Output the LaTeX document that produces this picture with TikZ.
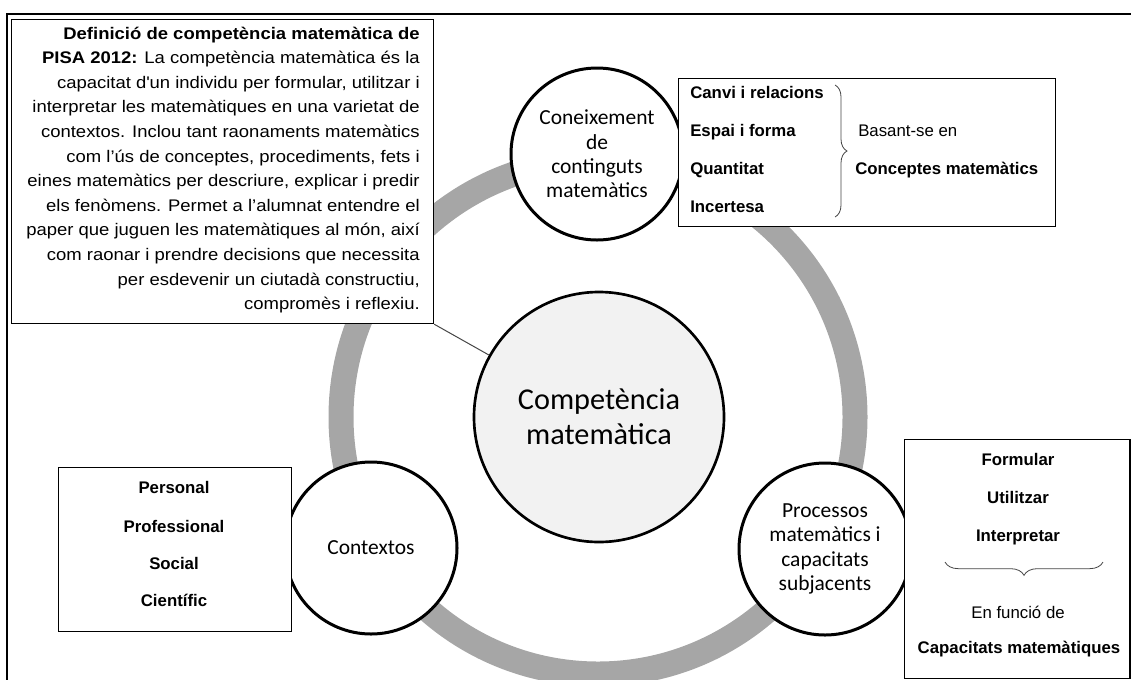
\documentclass[tikz,border=0pt]{standalone}
\usepackage{fontspec}
\setmainfont{Liberation Sans}
\newfontfamily\calib{Carlito}
\newfontfamily\defn[FakeStretch=1.1]{Liberation Sans}
\usetikzlibrary{decorations.pathreplacing}
\definecolor{ringgray}{RGB}{166,166,166}
\definecolor{centgray}{RGB}{242,242,242}
\definecolor{linegray}{RGB}{70,70,70}
\tikzset{
  smallc/.style={circle, draw, line width=2.25pt, fill=white, minimum size=129pt, inner sep=0pt,
    font=\calib\fontsize{16.1}{18.3}\selectfont, align=center},
  bigc/.style={circle, draw, line width=2pt, fill=centgray, minimum size=187.5pt, inner sep=0pt,
    font=\calib\fontsize{22.7}{26.3}\selectfont, align=center},
  boxnode/.style={draw, line width=0.9pt, fill=white, inner sep=0pt, anchor=north west},
  item/.style={inner sep=0pt, font=\fontsize{12.6}{15}\selectfont\bfseries},
  plain/.style={inner sep=0pt, font=\fontsize{12.6}{15}\selectfont},
  bracestyle/.style={decorate, line width=0.6pt, draw=linegray},
}
\begin{document}
\begin{tikzpicture}[x=0.75pt,y=-0.75pt]
\useasboundingbox (0,0) rectangle (1131,679);
\clip (0,0) rectangle (1131,679);
% outer frame
\draw[line width=1.5pt] (7,14) rectangle (1145,695);
% ring
\draw[ringgray, line width=18.75pt] (598,417) circle[radius=192.75pt];
% central circle
\node[bigc] (comp) at (599,417) {Competència\\matemàtica};
% small circles
\node[smallc] (con) at (597,154) {Coneixement\\de\\continguts\\matemàtics};
\node[smallc] (ctx) at (371,548) {Contextos};
\node[smallc] (pro) at (825,549) {Processos\\matemàtics i\\capacitats\\subjacents};
% definition box
\node[boxnode, minimum width=316.5pt, minimum height=228pt] (defbox) at (11,19) {};
\node[anchor=north east, inner sep=0pt, align=right,
  font=\defn\fontsize{12.6}{18.45}\selectfont] (deftext) at (420,26.6)
 {\textbf{Definició de competència matemàtica de}\\
  \textbf{PISA 2012:} La competència matemàtica és la\\
  capacitat d\textquotesingle un individu per formular, utilitzar i\\
  interpretar les matemàtiques en una varietat de\\
  contextos. Inclou tant raonaments matemàtics\\
  com l’ús de conceptes, procediments, fets i\\
  eines matemàtics per descriure, explicar i predir\\
  els fenòmens. Permet a l’alumnat entendre el\\
  paper que juguen les matemàtiques al món, així\\
  com raonar i prendre decisions que necessita\\
  per esdevenir un ciutadà constructiu,\\
  compromès i reflexiu.};
\draw[line width=0.75pt, draw=linegray] (defbox.south east) -- (comp);
% conceptes box
\node[boxnode, minimum width=282.75pt, minimum height=111pt] (conbox) at (678,78) {};
\node[item, anchor=base west] (c1) at (690,98) {Canvi i relacions};
\node[item, anchor=base west] (c2) at (690,136) {Espai i forma};
\node[item, anchor=base west] (c3) at (690,174) {Quantitat};
\node[item, anchor=base west] (c4) at (690,212) {Incertesa};
\coordinate (cbt) at (835,85);
\coordinate (cbb) at (835,217);
\draw[bracestyle, decoration={brace, amplitude=9pt}] (cbt) -- (cbb);
\node[plain, anchor=base west] (bas) at (858,136) {Basant-se en};
\node[item, anchor=base west] (cm) at (855,174) {Conceptes matemàtics};
% capacitats box
\node[boxnode, minimum width=169.1pt, minimum height=178.9pt] (capbox) at (904,439) {};
\node[item, anchor=base] (p1) at (1018,465) {Formular};
\node[item, anchor=base] (p2) at (1018,503) {Utilitzar};
\node[item, anchor=base] (p3) at (1018,541) {Interpretar};
\coordinate (pbr) at (1103,562);
\coordinate (pbl) at (945,562);
\draw[bracestyle, decoration={brace, amplitude=10pt}] (pbr) -- (pbl);
\node[plain, anchor=base] (enf) at (1018,618) {En funció de};
\node[item, anchor=base] (capm) at (1019,653) {Capacitats matemàtiques};
% contexts box
\node[boxnode, minimum width=174.75pt, minimum height=123pt] (ctxbox) at (58,467) {};
\node[item, anchor=base] (x1) at (174,493) {Personal};
\node[item, anchor=base] (x2) at (174,532) {Professional};
\node[item, anchor=base] (x3) at (174,569) {Social};
\node[item, anchor=base] (x4) at (174,606) {Científic};
\end{tikzpicture}
\end{document}
